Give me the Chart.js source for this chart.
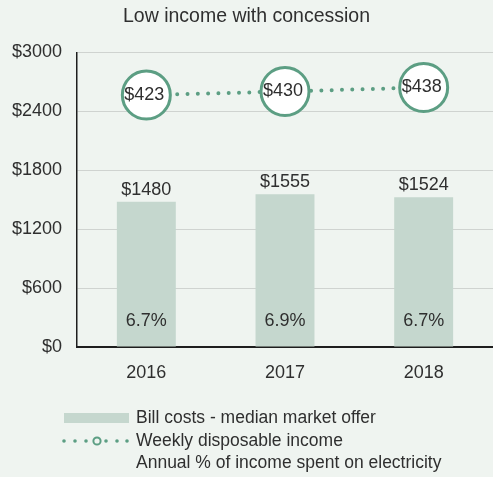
<!DOCTYPE html>
<html>
<head>
<meta charset="utf-8">
<script src="https://cdn.jsdelivr.net/npm/chart.js@4/dist/chart.umd.min.js"></script>
<style>
  body { margin: 0; background: #eff4f0; }
  #wrap { width: 493px; height: 477px; }
</style>
</head>
<body>
<div id="wrap"><canvas id="income_chart" width="493" height="477"></canvas></div>
<script>
const ctx = document.getElementById('income_chart').getContext('2d');

const years = ['2016', '2017', '2018'];
const billCosts = [1480, 1555, 1524];
const weeklyIncome = [423, 430, 438];
const pctIncome = [6.7, 6.9, 6.7];
const yTicks = [0, 600, 1200, 1800, 2400, 3000];

const FONT = '"Liberation Sans", Arial, sans-serif';
const TEXT = '#2f2f2f';
const BAR = '#c5d7ce';
const GREEN = '#5c9e83';

const legendNames = [
  'Bill costs - median market offer',
  'Weekly disposable income',
  'Annual % of income spent on electricity'
];

// value labels + the legend, drawn on the canvas
const labelPlugin = {
  id: 'labels',
  afterDatasetsDraw(chart) {
    const c = chart.ctx;
    const bars = chart.getDatasetMeta(0).data;
    const points = chart.getDatasetMeta(1).data;
    const base = chart.scales.y.getPixelForValue(0);
    c.save();
    c.fillStyle = TEXT;
    c.textAlign = 'center';
    c.textBaseline = 'middle';
    c.font = '18px ' + FONT;
    bars.forEach((b, i) => {
      c.fillText('$' + billCosts[i], b.x, b.y - 12);
      c.fillText(pctIncome[i].toFixed(1) + '%', b.x, base - 26);
    });
    points.forEach((p, i) => {
      c.fillText('$' + weeklyIncome[i], p.x - 2, p.y);
    });
    c.restore();
  },
  afterDraw(chart) {
    const c = chart.ctx;
    const top = chart.chartArea.bottom;
    const x0 = 64, tx = 136;
    const rows = [top + 71, top + 94, top + 116];
    c.save();
    // bar swatch
    c.fillStyle = BAR;
    c.fillRect(x0, rows[0] - 5, 65, 10);
    // dotted line with a ring
    c.fillStyle = GREEN;
    [0, 11, 22, 42, 53, 63].forEach(dx => {
      c.beginPath();
      c.arc(x0 + dx, rows[1], 1.8, 0, Math.PI * 2);
      c.fill();
    });
    c.beginPath();
    c.arc(x0 + 33, rows[1], 3.6, 0, Math.PI * 2);
    c.lineWidth = 2;
    c.strokeStyle = GREEN;
    c.stroke();
    c.fillStyle = TEXT;
    c.font = '17.5px ' + FONT;
    c.textAlign = 'left';
    c.textBaseline = 'middle';
    legendNames.forEach((n, i) => c.fillText(n, tx, rows[i]));
    c.restore();
  }
};

const config = {
  data: {
    labels: years,
    datasets: [{
      type: 'bar',
      label: legendNames[0],
      data: billCosts,
      backgroundColor: BAR,
      categoryPercentage: 1,
      barPercentage: 0.425,
      yAxisID: 'y',
      order: 1
    }, {
      type: 'line',
      label: legendNames[1],
      data: weeklyIncome,
      borderColor: GREEN,
      borderWidth: 4,
      borderDash: [0, 10.3],
      borderCapStyle: 'round',
      pointRadius: 24,
      pointBorderWidth: 3,
      pointBackgroundColor: '#ffffff',
      pointBorderColor: GREEN,
      clip: false,
      yAxisID: 'y2',
      order: 0
    }]
  },
  options: {
    responsive: false,
    devicePixelRatio: 1,
    animation: false,
    layout: { padding: 0, autoPadding: false },
    plugins: {
      legend: { display: false },
      tooltip: { enabled: false },
      title: {
        display: true,
        text: 'Low income with concession',
        color: TEXT,
        font: { family: FONT, size: 19.5, weight: 'normal' },
        padding: { top: 5, bottom: 24 }
      }
    },
    scales: {
      x: {
        grid: { display: false, drawTicks: false },
        border: { display: true, color: '#1e1e1e', width: 2 },
        ticks: { color: TEXT, padding: 15, font: { family: FONT, size: 18 } },
        afterFit(s) {
          s.height = 130;
          s.paddingLeft = 0;
          s.paddingRight = 0;
        }
      },
      y: {
        min: 0,
        max: 3000,
        afterBuildTicks(s) { s.ticks = yTicks.map(v => ({ value: v })); },
        grid: { color: '#cfd3d0', lineWidth: 1, drawTicks: false },
        border: { display: true, color: '#1e1e1e', width: 1.5 },
        ticks: {
          color: TEXT,
          padding: 15,
          font: { family: FONT, size: 18 },
          callback: v => '$' + v
        },
        afterFit(s) { s.width = 77; }
      },
      y2: {
        display: false,
        min: -80,
        max: 508
      }
    }
  },
  plugins: [labelPlugin]
};

const income_chart = new Chart(ctx, config);
</script>
</body>
</html>
